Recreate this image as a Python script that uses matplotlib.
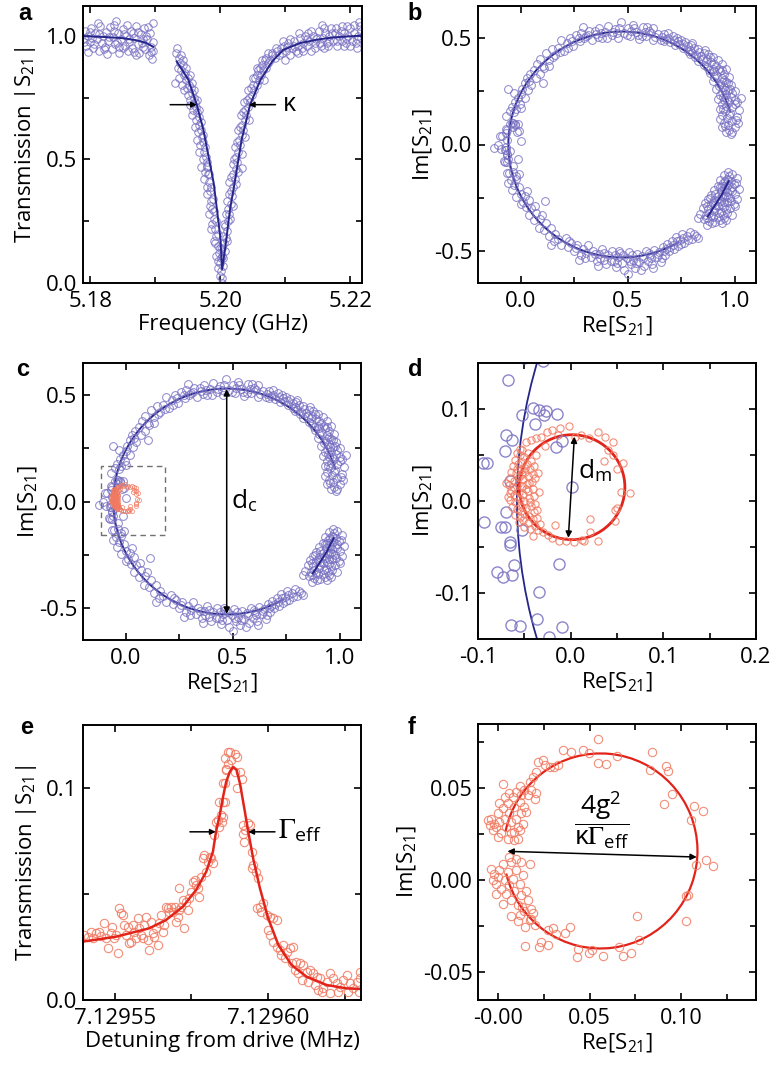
import numpy as np
import matplotlib
matplotlib.use('Agg')
import matplotlib.pyplot as plt
from matplotlib.patches import Arc, Circle, Rectangle
from matplotlib.ticker import FixedLocator, FormatStrFormatter

plt.rcParams['font.family'] = ['Open Sans', 'DejaVu Sans']
plt.rcParams['mathtext.fontset'] = 'stix'
plt.rcParams['axes.unicode_minus'] = False

# ---------------- panel a : |S21| vs frequency (GHz) ----------------
a_left_pts = [(5.1790, 0.99), (5.1792, 1.02), (5.1794, 0.96), (5.1797, 1.00), (5.1800, 0.975),
              (5.1802, 1.03), (5.1805, 0.95), (5.1807, 1.01), (5.1810, 0.985), (5.1813, 0.94),
              (5.1815, 1.04), (5.1818, 0.97), (5.1820, 1.00), (5.1823, 0.955), (5.1825, 1.015),
              (5.1828, 0.98), (5.1830, 1.035), (5.1833, 0.945), (5.1835, 0.995), (5.1838, 0.965),
              (5.1840, 1.06), (5.1843, 1.01), (5.1845, 0.93), (5.1848, 0.985), (5.1850, 1.025),
              (5.1853, 0.96), (5.1855, 1.00), (5.1858, 0.94), (5.1860, 0.975), (5.1863, 1.02),
              (5.1865, 0.95), (5.1868, 0.99), (5.1870, 1.04), (5.1873, 0.965), (5.1875, 0.93),
              (5.1878, 1.005), (5.1880, 0.97), (5.1883, 1.03), (5.1885, 0.945), (5.1888, 0.985),
              (5.1890, 0.92), (5.1892, 1.01), (5.1894, 0.955), (5.1896, 1.05), (5.1897, 0.975),
              (5.1796, 0.935), (5.1812, 1.05), (5.1826, 0.925), (5.1842, 0.975), (5.1857, 1.045),
              (5.1871, 0.92), (5.1886, 1.00), (5.1893, 0.935), (5.1803, 0.99), (5.1836, 1.02),
              (5.1851, 0.95), (5.1866, 1.01), (5.1881, 0.955), (5.1895, 0.905),
              (5.1791, 0.975), (5.1799, 1.015), (5.1806, 0.965), (5.1814, 1.005), (5.1821, 0.945),
              (5.1829, 0.995), (5.1837, 1.045), (5.1844, 0.955), (5.1852, 1.005), (5.1859, 0.985),
              (5.1867, 0.935), (5.1874, 1.015), (5.1882, 0.985), (5.1889, 1.035), (5.1896, 0.94)]
a_dip_left_pts = [(5.1932, 0.93), (5.1934, 0.95), (5.1936, 0.91), (5.1935, 0.87), (5.1938, 0.89),
                  (5.1940, 0.86), (5.1937, 0.83), (5.1942, 0.88), (5.1944, 0.84), (5.1941, 0.80),
                  (5.1946, 0.85), (5.1948, 0.82), (5.1945, 0.78), (5.1950, 0.83), (5.1952, 0.80),
                  (5.1950, 0.76), (5.1955, 0.79), (5.1957, 0.77), (5.1954, 0.74), (5.1959, 0.75),
                  (5.1961, 0.73), (5.1958, 0.70), (5.1963, 0.71), (5.1965, 0.69), (5.1962, 0.66),
                  (5.1967, 0.67), (5.1968, 0.64), (5.1966, 0.61), (5.1970, 0.62), (5.1972, 0.59),
                  (5.1969, 0.56), (5.1974, 0.57), (5.1975, 0.53), (5.1973, 0.50), (5.1978, 0.51),
                  (5.1979, 0.47), (5.1977, 0.45), (5.1981, 0.44), (5.1983, 0.41), (5.1980, 0.39),
                  (5.1985, 0.37), (5.1986, 0.33), (5.1984, 0.31), (5.1988, 0.30), (5.1990, 0.26),
                  (5.1988, 0.24), (5.1992, 0.22), (5.1994, 0.19), (5.1992, 0.16), (5.1996, 0.15),
                  (5.1998, 0.12), (5.1996, 0.09), (5.2000, 0.08), (5.2001, 0.05), (5.1999, 0.03),
                  (5.2002, 0.11), (5.1931, 0.81), (5.1979, 0.475),
                  (5.1939, 0.92), (5.1943, 0.90), (5.1947, 0.87), (5.1949, 0.79), (5.1953, 0.84),
                  (5.1956, 0.81), (5.1953, 0.72), (5.1960, 0.78), (5.1957, 0.68), (5.1964, 0.74),
                  (5.1961, 0.63), (5.1967, 0.70), (5.1964, 0.58), (5.1971, 0.65), (5.1968, 0.53),
                  (5.1974, 0.60), (5.1971, 0.47), (5.1977, 0.55), (5.1975, 0.42), (5.1980, 0.49),
                  (5.1979, 0.36), (5.1983, 0.44), (5.1982, 0.28), (5.1986, 0.39), (5.1986, 0.22),
                  (5.1989, 0.34), (5.1990, 0.17), (5.1991, 0.29), (5.1994, 0.11), (5.1994, 0.25),
                  (5.1997, 0.06), (5.1997, 0.20), (5.2000, 0.14), (5.2002, 0.00)]
a_dip_right_pts = [(5.2003, 0.02), (5.2005, 0.07), (5.2004, 0.10), (5.2007, 0.13), (5.2006, 0.16),
                   (5.2009, 0.18), (5.2011, 0.21), (5.2008, 0.23), (5.2012, 0.25), (5.2014, 0.28),
                   (5.2012, 0.30), (5.2016, 0.32), (5.2018, 0.35), (5.2016, 0.37), (5.2020, 0.39),
                   (5.2022, 0.42), (5.2020, 0.44), (5.2024, 0.46), (5.2026, 0.49), (5.2024, 0.51),
                   (5.2028, 0.53), (5.2030, 0.56), (5.2029, 0.58), (5.2033, 0.60), (5.2035, 0.62),
                   (5.2033, 0.64), (5.2038, 0.66), (5.2040, 0.68), (5.2038, 0.70), (5.2043, 0.71),
                   (5.2046, 0.73), (5.2044, 0.75), (5.2049, 0.76), (5.2052, 0.78), (5.2050, 0.80),
                   (5.2056, 0.80), (5.2059, 0.82), (5.2057, 0.84), (5.2063, 0.84), (5.2066, 0.86),
                   (5.2064, 0.88), (5.2070, 0.87), (5.2073, 0.89), (5.2071, 0.91), (5.2077, 0.90),
                   (5.2080, 0.92), (5.2084, 0.91), (5.2087, 0.94), (5.2090, 0.92), (5.2094, 0.95),
                   (5.2033, 0.465), (5.2058, 0.86), (5.2068, 0.82),
                   (5.2001, 0.10), (5.2003, 0.14), (5.2004, 0.19), (5.2006, 0.24), (5.2009, 0.28),
                   (5.2010, 0.33), (5.2013, 0.36), (5.2014, 0.41), (5.2017, 0.43), (5.2019, 0.48),
                   (5.2021, 0.50), (5.2023, 0.55), (5.2026, 0.57), (5.2027, 0.62), (5.2030, 0.63),
                   (5.2032, 0.68), (5.2035, 0.69), (5.2037, 0.73), (5.2041, 0.74), (5.2043, 0.78),
                   (5.2047, 0.79), (5.2050, 0.83), (5.2054, 0.83), (5.2057, 0.87), (5.2061, 0.87),
                   (5.2064, 0.90), (5.2069, 0.90), (5.2074, 0.93), (5.2079, 0.93), (5.2085, 0.95),
                   (5.2011, 0.17), (5.2015, 0.26), (5.2019, 0.31), (5.2024, 0.40), (5.2028, 0.45),
                   (5.2033, 0.52), (5.2038, 0.59), (5.2045, 0.66)]
a_right_pts = [(5.2095, 0.93), (5.2098, 0.96), (5.2101, 0.94), (5.2104, 0.97), (5.2107, 0.92),
               (5.2110, 0.95), (5.2113, 0.98), (5.2116, 0.94), (5.2119, 0.96), (5.2122, 0.99),
               (5.2125, 0.95), (5.2128, 0.97), (5.2131, 1.00), (5.2134, 0.96), (5.2137, 0.98),
               (5.2140, 0.94), (5.2143, 1.00), (5.2146, 0.97), (5.2149, 0.99), (5.2152, 1.02),
               (5.2155, 0.96), (5.2158, 0.99), (5.2161, 1.01), (5.2164, 0.97), (5.2167, 1.00),
               (5.2170, 1.03), (5.2173, 0.98), (5.2176, 1.01), (5.2179, 0.96), (5.2182, 1.00),
               (5.2185, 1.02), (5.2188, 0.98), (5.2191, 1.01), (5.2194, 0.97), (5.2197, 1.00),
               (5.2200, 1.03), (5.2203, 0.98), (5.2206, 1.01), (5.2209, 0.97), (5.2212, 1.00),
               (5.2215, 1.04), (5.2217, 0.99), (5.2100, 0.90), (5.2120, 0.93), (5.2135, 1.01),
               (5.2160, 0.95), (5.2178, 1.03), (5.2195, 1.04), (5.2210, 0.95), (5.2190, 0.96),
               (5.2145, 0.95), (5.2168, 0.98), (5.2156, 1.045), (5.2213, 1.055),
               (5.2096, 0.98), (5.2102, 0.955), (5.2108, 0.985), (5.2114, 0.96), (5.2121, 1.01),
               (5.2127, 0.94), (5.2133, 0.985), (5.2139, 1.02), (5.2147, 0.985), (5.2153, 0.97),
               (5.2159, 1.03), (5.2166, 0.96), (5.2172, 1.01), (5.2180, 0.98), (5.2187, 1.04),
               (5.2193, 0.99), (5.2199, 0.96), (5.2205, 1.045), (5.2211, 0.985), (5.2216, 1.02)]
a_fit_left = [(5.1789, 0.998), (5.1820, 0.995), (5.1850, 0.990), (5.1870, 0.982),
              (5.1885, 0.972), (5.1897, 0.955)]
a_fit_dip = [(5.1933, 0.896), (5.1951, 0.822), (5.1964, 0.721), (5.1974, 0.620),
             (5.1982, 0.512), (5.1990, 0.404), (5.1995, 0.296), (5.2000, 0.189),
             (5.2003, 0.055), (5.2008, 0.148), (5.2015, 0.296), (5.2023, 0.418),
             (5.2033, 0.580), (5.2046, 0.721), (5.2062, 0.822), (5.2080, 0.896),
             (5.2097, 0.943), (5.2123, 0.970), (5.2149, 0.984), (5.2174, 0.993),
             (5.2215, 1.000)]

# ---------------- panels b/c : complex S21 (cavity) ----------------
blue_upper_right = [(0.985, 0.05), (0.960, 0.06), (0.94, 0.08), (0.97, 0.09), (1.00, 0.08),
                    (0.95, 0.10), (0.99, 0.11), (0.93, 0.12), (0.965, 0.125), (1.01, 0.13),
                    (0.94, 0.14), (0.98, 0.15), (0.955, 0.155), (1.02, 0.16), (0.93, 0.165),
                    (0.99, 0.175), (0.96, 0.18), (0.94, 0.19), (1.00, 0.19), (0.975, 0.20),
                    (0.95, 0.21), (1.03, 0.22), (0.92, 0.215), (0.985, 0.225), (0.96, 0.235),
                    (0.94, 0.245), (1.00, 0.25), (0.97, 0.255), (0.915, 0.26), (0.95, 0.27),
                    (0.985, 0.28), (0.93, 0.285), (0.96, 0.295), (0.90, 0.30), (0.94, 0.31),
                    (0.975, 0.315), (0.915, 0.325), (0.95, 0.33), (0.885, 0.335), (0.93, 0.345),
                    (0.96, 0.355), (0.90, 0.355), (0.87, 0.365), (0.915, 0.37), (0.94, 0.38),
                    (0.855, 0.375), (0.89, 0.385), (0.92, 0.395), (0.83, 0.39), (0.87, 0.40),
                    (0.90, 0.41), (0.845, 0.415), (0.815, 0.41), (0.875, 0.425), (0.80, 0.43),
                    (0.835, 0.435), (0.86, 0.445), (0.78, 0.44), (0.81, 0.455), (0.76, 0.455),
                    (0.795, 0.465), (0.74, 0.47), (0.77, 0.48), (0.72, 0.465), (0.75, 0.49),
                    (0.70, 0.48), (0.73, 0.50), (0.68, 0.495), (0.71, 0.51), (0.66, 0.505),
                    (0.975, 0.07), (1.015, 0.10), (0.945, 0.225), (0.905, 0.345), (0.85, 0.40),
                    (0.79, 0.425),
                    (0.99, 0.06), (0.955, 0.085), (1.005, 0.115), (0.975, 0.14), (0.945, 0.165),
                    (1.01, 0.20), (0.965, 0.21), (0.93, 0.23), (0.99, 0.24), (0.955, 0.255),
                    (0.925, 0.275), (0.97, 0.29), (0.94, 0.295), (0.905, 0.315), (0.95, 0.305),
                    (0.925, 0.355), (0.88, 0.35), (0.905, 0.38), (0.865, 0.39), (0.885, 0.41),
                    (0.82, 0.42), (0.855, 0.43), (0.79, 0.445), (0.83, 0.45), (0.76, 0.47),
                    (0.80, 0.475), (0.735, 0.485), (0.715, 0.49), (0.69, 0.50), (0.67, 0.52),
                    (0.655, 0.49), (0.78, 0.46), (0.94, 0.35), (0.98, 0.26), (1.00, 0.21)]
blue_top = [(0.64, 0.52), (0.62, 0.49), (0.60, 0.535), (0.585, 0.51), (0.57, 0.55),
            (0.555, 0.495), (0.54, 0.53), (0.525, 0.56), (0.51, 0.51), (0.50, 0.545),
            (0.485, 0.525), (0.47, 0.575), (0.455, 0.50), (0.44, 0.54), (0.425, 0.515),
            (0.41, 0.555), (0.395, 0.53), (0.38, 0.50), (0.365, 0.545), (0.35, 0.52),
            (0.335, 0.49), (0.32, 0.535), (0.305, 0.51), (0.29, 0.55), (0.275, 0.485),
            (0.26, 0.515), (0.245, 0.46), (0.23, 0.50), (0.215, 0.475), (0.20, 0.44),
            (0.19, 0.49), (0.175, 0.455), (0.16, 0.42), (0.145, 0.45), (0.13, 0.395),
            (0.12, 0.43), (0.105, 0.37), (0.09, 0.40), (0.58, 0.53), (0.55, 0.515),
            (0.515, 0.535), (0.45, 0.525), (0.36, 0.505), (0.28, 0.525), (0.62, 0.545),
            (0.67, 0.485), (0.69, 0.525),
            (0.63, 0.505), (0.61, 0.525), (0.59, 0.55), (0.565, 0.51), (0.53, 0.545),
            (0.495, 0.515), (0.46, 0.545), (0.43, 0.53), (0.405, 0.50), (0.375, 0.525),
            (0.345, 0.535), (0.315, 0.515), (0.295, 0.50), (0.27, 0.50), (0.24, 0.485),
            (0.22, 0.455), (0.185, 0.435), (0.15, 0.41)]
blue_left = [(0.075, 0.38), (0.06, 0.35), (0.09, 0.33), (0.045, 0.33), (0.03, 0.31),
             (0.07, 0.31), (0.02, 0.29), (0.05, 0.28), (0.103, 0.29), (0.005, 0.26),
             (0.035, 0.255), (-0.061, 0.261), (0.0, 0.235), (-0.015, 0.22), (0.02, 0.22),
             (-0.025, 0.20), (-0.005, 0.19), (-0.04, 0.175), (-0.02, 0.165), (0.0, 0.17),
             (-0.05, 0.155), (0.11, 0.36), (0.13, 0.37), (0.04, 0.30), (-0.03, 0.24),
             (-0.068, 0.132), (-0.030, 0.152), (-0.052, 0.094), (-0.041, 0.101), (-0.034, 0.099),
             (-0.027, 0.098), (-0.029, 0.093), (-0.015, 0.095), (-0.038, 0.084), (-0.070, 0.072),
             (-0.063, 0.066), (-0.016, 0.059), (-0.009, 0.065), (-0.071, 0.054), (-0.095, 0.041),
             (-0.090, 0.041), (0.001, 0.015), (-0.065, 0.022), (-0.093, -0.023), (-0.070, -0.012),
             (-0.075, -0.028), (-0.071, -0.028), (-0.066, -0.045), (-0.065, -0.048), (-0.052, -0.032),
             (-0.061, -0.070), (-0.079, -0.077), (-0.073, -0.083), (-0.063, -0.080), (-0.0125, -0.068),
             (-0.034, -0.099), (-0.036, -0.128), (-0.064, -0.135), (-0.055, -0.136), (-0.009, -0.137),
             (-0.023, -0.148), (-0.125, -0.018), (-0.105, 0.0),
             (-0.045, -0.165), (-0.02, -0.16), (-0.06, -0.18), (-0.03, -0.19), (-0.01, -0.20),
             (-0.04, -0.215), (0.0, -0.23), (-0.02, -0.245), (0.02, -0.24), (0.01, -0.27),
             (0.04, -0.26), (0.111, -0.266), (0.025, -0.295), (0.05, -0.30), (0.04, -0.33),
             (0.07, -0.32), (0.06, -0.355), (0.09, -0.35), (0.085, -0.39), (0.12, -0.37),
             (0.11, -0.40), (0.14, -0.39), (0.13, -0.43), (0.142, -0.473), (0.16, -0.42),
             (0.175, -0.445), (0.19, -0.47), (0.03, -0.22), (0.0, -0.28), (0.065, -0.29),
             (0.10, -0.33), (0.155, -0.455)]
blue_bottom = [(0.21, -0.44), (0.22, -0.48), (0.235, -0.46), (0.25, -0.50), (0.265, -0.47),
               (0.28, -0.52), (0.29, -0.49), (0.305, -0.51), (0.315, -0.47), (0.33, -0.53),
               (0.34, -0.50), (0.355, -0.545), (0.365, -0.515), (0.38, -0.49), (0.39, -0.54),
               (0.40, -0.56), (0.41, -0.52), (0.425, -0.50), (0.435, -0.545), (0.445, -0.575),
               (0.455, -0.53), (0.465, -0.51), (0.475, -0.555), (0.485, -0.59), (0.495, -0.535),
               (0.505, -0.505), (0.515, -0.56), (0.525, -0.54), (0.535, -0.58), (0.545, -0.515),
               (0.555, -0.55), (0.565, -0.525), (0.575, -0.57), (0.585, -0.50), (0.595, -0.545),
               (0.605, -0.52), (0.615, -0.56), (0.625, -0.495), (0.635, -0.53), (0.645, -0.505),
               (0.655, -0.55), (0.665, -0.48), (0.675, -0.52), (0.685, -0.465), (0.695, -0.50),
               (0.705, -0.455), (0.715, -0.49), (0.725, -0.435), (0.735, -0.475), (0.745, -0.45),
               (0.755, -0.42), (0.765, -0.46), (0.775, -0.43), (0.79, -0.41), (0.80, -0.445),
               (0.82, -0.43), (0.83, -0.44), (0.50, -0.61), (0.36, -0.57), (0.27, -0.54),
               (0.46, -0.50), (0.62, -0.58), (0.56, -0.59), (0.39, -0.51), (0.44, -0.52),
               (0.52, -0.52), (0.60, -0.51), (0.68, -0.49), (0.71, -0.47), (0.76, -0.44),
               (0.225, -0.455), (0.26, -0.485), (0.30, -0.535), (0.345, -0.515), (0.37, -0.535),
               (0.42, -0.545), (0.45, -0.555), (0.48, -0.52), (0.51, -0.545), (0.54, -0.555),
               (0.57, -0.535), (0.61, -0.535), (0.64, -0.515), (0.67, -0.50), (0.70, -0.48),
               (0.73, -0.455), (0.75, -0.465), (0.78, -0.45), (0.81, -0.42), (0.66, -0.535)]
blue_cluster = [(0.97, -0.13), (0.99, -0.14), (0.95, -0.145), (1.01, -0.155), (0.965, -0.16),
                (0.93, -0.165), (0.985, -0.17), (1.005, -0.18), (0.945, -0.18), (0.97, -0.19),
                (0.92, -0.195), (0.99, -0.20), (0.95, -0.205), (1.02, -0.21), (0.905, -0.215),
                (0.935, -0.22), (0.965, -0.225), (1.00, -0.23), (0.89, -0.235), (0.92, -0.24),
                (0.95, -0.245), (0.98, -0.25), (1.01, -0.255), (0.875, -0.255), (0.905, -0.26),
                (0.935, -0.265), (0.965, -0.27), (0.995, -0.28), (0.86, -0.275), (0.89, -0.28),
                (0.92, -0.29), (0.95, -0.295), (0.98, -0.30), (0.85, -0.30), (0.875, -0.305),
                (0.905, -0.31), (0.935, -0.315), (0.965, -0.32), (0.84, -0.325), (0.865, -0.33),
                (0.89, -0.335), (0.92, -0.34), (0.95, -0.345), (0.855, -0.35), (0.88, -0.36),
                (0.91, -0.365), (0.94, -0.37), (0.83, -0.345), (0.87, -0.38), (0.96, -0.355),
                (0.99, -0.33), (0.93, -0.20), (0.96, -0.21), (1.00, -0.29), (0.885, -0.25),
                (0.91, -0.285), (0.94, -0.24), (0.97, -0.245), (0.95, -0.27), (0.925, -0.32),
                (0.90, -0.34), (0.97, -0.165), (0.99, -0.22),
                (0.975, -0.15), (0.955, -0.17), (0.995, -0.185), (0.94, -0.195), (0.98, -0.215),
                (0.91, -0.23), (0.96, -0.24), (0.925, -0.255), (0.985, -0.265), (0.90, -0.275),
                (0.94, -0.285), (0.87, -0.29), (0.91, -0.30), (0.96, -0.305), (0.88, -0.32),
                (0.945, -0.33), (0.87, -0.345), (0.93, -0.355), (0.895, -0.37)]
# fitted circle: centre, radius, start / end angle (deg)
cav_center = (0.472, 0.0)
cav_radius = 0.53
cav_theta = (16.4, 300.4)
cav_seg_re = [0.875, 0.905, 0.94, 0.972]
cav_seg_im = [-0.337, -0.29, -0.235, -0.172]
d_c_line = [(0.472, 0.527), (0.472, -0.527)]

# ---------------- panel d : magnon circle ----------------
red_d = [(-0.060, 0.045), (-0.055, 0.050), (-0.050, 0.048), (-0.046, 0.052), (-0.062, 0.038),
         (-0.057, 0.040), (-0.052, 0.042), (-0.047, 0.040), (-0.043, 0.044), (-0.064, 0.032),
         (-0.059, 0.030), (-0.054, 0.034), (-0.049, 0.032), (-0.044, 0.035), (-0.040, 0.038),
         (-0.066, 0.025), (-0.061, 0.022), (-0.056, 0.026), (-0.051, 0.024), (-0.046, 0.027),
         (-0.041, 0.029), (-0.067, 0.017), (-0.062, 0.015), (-0.057, 0.018), (-0.052, 0.016),
         (-0.047, 0.019), (-0.042, 0.021), (-0.038, 0.025), (-0.066, 0.009), (-0.061, 0.007),
         (-0.056, 0.010), (-0.051, 0.008), (-0.046, 0.011), (-0.041, 0.013), (-0.065, 0.001),
         (-0.060, -0.001), (-0.055, 0.002), (-0.050, 0.000), (-0.045, 0.003), (-0.040, 0.005),
         (-0.063, -0.007), (-0.058, -0.009), (-0.053, -0.006), (-0.048, -0.008), (-0.043, -0.005),
         (-0.038, -0.003), (-0.060, -0.015), (-0.055, -0.017), (-0.050, -0.014), (-0.045, -0.016),
         (-0.040, -0.012), (-0.056, -0.023), (-0.051, -0.021), (-0.046, -0.024), (-0.041, -0.020),
         (-0.036, -0.018), (-0.050, -0.028), (-0.044, -0.030), (-0.038, -0.027), (-0.058, 0.035),
         (-0.053, 0.029), (-0.048, 0.013), (-0.044, -0.001), (-0.054, -0.011), (-0.049, 0.036),
         (-0.064, 0.012), (-0.059, 0.004), (-0.045, 0.020), (-0.052, 0.055), (-0.058, 0.052),
         (-0.037, 0.050), (-0.035, 0.030), (-0.034, 0.010), (-0.036, -0.010), (-0.033, -0.025),
         (-0.070, 0.020), (-0.068, 0.004),
         (-0.055, 0.057), (-0.048, 0.064), (-0.043, 0.066), (-0.0375, 0.068), (-0.032, 0.070),
         (-0.026, 0.0745), (-0.020, 0.077), (-0.011, 0.079), (-0.002, 0.082), (-0.014, 0.072),
         (0.005, 0.070), (0.011, 0.072), (0.029, 0.0745), (0.0375, 0.070), (0.046, 0.064),
         (0.036, 0.044), (0.046, 0.050), (0.057, 0.041), (0.050, 0.035), (0.054, 0.010),
         (0.064, 0.009), (0.050, -0.008), (0.048, -0.010), (0.048, -0.022), (0.021, -0.020),
         (0.021, -0.034), (0.0125, -0.042), (0.0036, -0.045), (-0.005, -0.043), (-0.0125, -0.043),
         (-0.020, -0.040), (-0.025, -0.037), (-0.030, -0.034), (-0.041, -0.0375), (-0.035, -0.031),
         (-0.017, -0.026), (0.014, -0.044), (0.029, -0.043), (-0.028, 0.060), (0.020, 0.068),
         (0.040, 0.055)]
mag_center = (0.0015, 0.015)
mag_radius = 0.057
d_m_line = [(0.004, 0.070), (-0.0025, -0.040)]

# ---------------- panel e : |S21| vs detuning (MHz) ----------------
e_pts = [(7.1295401, 0.0307), (7.1295412, 0.0299), (7.1295423, 0.0323), (7.1295428, 0.0291),
         (7.1295439, 0.0315), (7.1295450, 0.0323), (7.1295455, 0.0304), (7.1295466, 0.0362),
         (7.1295472, 0.0291), (7.1295477, 0.0244), (7.1295488, 0.0315), (7.1295493, 0.0346),
         (7.1295499, 0.0291), (7.1295504, 0.0307), (7.1295510, 0.0220), (7.1295515, 0.0433),
         (7.1295521, 0.0409), (7.1295526, 0.0402), (7.1295532, 0.0354), (7.1295537, 0.0307),
         (7.1295542, 0.0346), (7.1295548, 0.0268), (7.1295553, 0.0275), (7.1295559, 0.0354),
         (7.1295564, 0.0323), (7.1295570, 0.0291), (7.1295575, 0.0386), (7.1295580, 0.0339),
         (7.1295586, 0.0307), (7.1295591, 0.0291), (7.1295597, 0.0354), (7.1295602, 0.0394),
         (7.1295608, 0.0283), (7.1295613, 0.0236), (7.1295618, 0.0370), (7.1295624, 0.0315),
         (7.1295629, 0.0299), (7.1295635, 0.0339), (7.1295640, 0.0260), (7.1295646, 0.0362),
         (7.1295651, 0.0402), (7.1295657, 0.0323), (7.1295662, 0.0354), (7.1295667, 0.0441),
         (7.1295673, 0.0433), (7.1295678, 0.0417), (7.1295684, 0.0441), (7.1295689, 0.0417),
         (7.1295695, 0.0441), (7.1295700, 0.0370), (7.1295705, 0.0394), (7.1295709, 0.0528),
         (7.1295711, 0.0425), (7.1295716, 0.0441), (7.1295722, 0.0472), (7.1295727, 0.0339),
         (7.1295733, 0.0465), (7.1295738, 0.0425), (7.1295743, 0.0480), (7.1295749, 0.0512),
         (7.1295754, 0.0559), (7.1295760, 0.0567), (7.1295765, 0.0543), (7.1295771, 0.0528),
         (7.1295776, 0.0488), (7.1295782, 0.0583), (7.1295787, 0.0669), (7.1295792, 0.0685),
         (7.1295798, 0.0606), (7.1295803, 0.0654), (7.1295809, 0.0677), (7.1295814, 0.0669),
         (7.1295820, 0.0646), (7.1295825, 0.0780), (7.1295830, 0.0843), (7.1295836, 0.0850),
         (7.1295839, 0.0937), (7.1295847, 0.0874), (7.1295852, 0.0937), (7.1295858, 0.1024),
         (7.1295863, 0.1087), (7.1295868, 0.1173), (7.1295841, 0.0819),
         (7.1295859, 0.1142), (7.1295864, 0.1094), (7.1295870, 0.1118), (7.1295875, 0.1173),
         (7.1295880, 0.1134), (7.1295891, 0.1165), (7.1295897, 0.1150), (7.1295891, 0.1079),
         (7.1295897, 0.1000), (7.1295908, 0.1079), (7.1295913, 0.1047), (7.1295853, 0.1024),
         (7.1295859, 0.0937), (7.1295848, 0.0843), (7.1295853, 0.0866), (7.1295918, 0.0827),
         (7.1295924, 0.0803), (7.1295935, 0.0835), (7.1295940, 0.0827), (7.1295918, 0.0787),
         (7.1295921, 0.0748), (7.1295946, 0.0701), (7.1295951, 0.0638), (7.1295946, 0.0622),
         (7.1295960, 0.0606), (7.1295967, 0.0575), (7.1295962, 0.0433), (7.1295973, 0.0441),
         (7.1295984, 0.0457), (7.1295978, 0.0417), (7.1295995, 0.0402), (7.1296005, 0.0394),
         (7.1296016, 0.0386), (7.1296027, 0.0378), (7.1296000, 0.0331), (7.1296005, 0.0307),
         (7.1296016, 0.0276), (7.1296027, 0.0252), (7.1296038, 0.0236), (7.1296049, 0.0260),
         (7.1296060, 0.0228), (7.1296071, 0.0244), (7.1296082, 0.0252), (7.1296043, 0.0213),
         (7.1296054, 0.0197), (7.1296092, 0.0181), (7.1296103, 0.0173), (7.1296114, 0.0165),
         (7.1296076, 0.0173), (7.1296087, 0.0142), (7.1296098, 0.0126), (7.1296125, 0.0134),
         (7.1296136, 0.0142), (7.1296147, 0.0126), (7.1296158, 0.0110), (7.1296168, 0.0102),
         (7.1296109, 0.0094), (7.1296130, 0.0087), (7.1296152, 0.0071), (7.1296163, 0.0047),
         (7.1296179, 0.0055), (7.1296190, 0.0087), (7.1296201, 0.0126), (7.1296212, 0.0102),
         (7.1296223, 0.0079), (7.1296234, 0.0063), (7.1296245, 0.0094), (7.1296255, 0.0118),
         (7.1296266, 0.0079), (7.1296277, 0.0055), (7.1296288, 0.0087), (7.1296299, 0.0134),
         (7.1296300, 0.0102), (7.1296174, 0.0039), (7.1296201, 0.0031), (7.1296228, 0.0039),
         (7.1296261, 0.0039), (7.1296294, 0.0039)]
e_fit = [(7.1295396, 0.0276), (7.1295504, 0.0299), (7.1295613, 0.0339), (7.1295667, 0.0378),
         (7.1295722, 0.0441), (7.1295765, 0.0520), (7.1295798, 0.0606), (7.1295820, 0.0701),
         (7.1295830, 0.0795), (7.1295842, 0.0874), (7.1295853, 0.0961), (7.1295863, 0.1031),
         (7.1295875, 0.1079), (7.1295886, 0.1102), (7.1295897, 0.1087), (7.1295908, 0.1024),
         (7.1295924, 0.0890), (7.1295935, 0.0795), (7.1295951, 0.0669), (7.1295973, 0.0528),
         (7.1296000, 0.0386), (7.1296033, 0.0260), (7.1296076, 0.0165), (7.1296125, 0.0110),
         (7.1296190, 0.0071), (7.1296255, 0.0055), (7.1296304, 0.0052)]

# ---------------- panel f : complex S21 (magnon) ----------------
f_pts = [(0.0544, 0.0771), (0.0356, 0.0709), (0.0401, 0.0700), (0.0465, 0.0709), (0.0496, 0.0695),
         (0.0547, 0.0636), (0.0588, 0.0631), (0.0651, 0.0676), (0.0839, 0.0700), (0.0916, 0.0622),
         (0.0927, 0.0595), (0.0830, 0.0600), (0.0953, 0.0467), (0.0909, 0.0413), (0.1071, 0.0404),
         (0.1122, 0.0376), (0.1055, 0.0327), (0.1135, 0.0113), (0.1177, 0.0080), (0.1080, 0.0085),
         (0.1040, -0.0078), (0.1026, -0.0087), (0.1026, -0.0218), (0.0761, -0.0196), (0.0770, -0.0324),
         (0.0662, -0.0364), (0.0684, -0.0411), (0.0726, -0.0396), (0.0575, -0.0411), (0.0496, -0.0396),
         (0.0511, -0.0378), (0.0438, -0.0375), (0.0434, -0.0415), (0.0392, -0.0251), (0.0365, -0.0287),
         (0.0319, -0.0291), (0.0274, -0.0269), (0.0274, -0.0351), (0.0223, -0.0360), (0.0237, -0.0333),
         (0.0146, -0.0356), (0.0301, -0.0260),
         (0.0026, 0.0524), (0.0117, 0.0513), (0.0172, 0.0536), (0.0181, 0.0491), (0.0190, 0.0564),
         (0.0208, 0.0591), (0.0217, 0.0645), (0.0245, 0.0655), (0.0254, 0.0627), (0.0281, 0.0618),
         (0.0305, 0.0618), (0.0162, 0.0464), (0.0199, 0.0445), (0.0208, 0.0473), (0.0144, 0.0491),
         (0.0327, 0.0627),
         (-0.0038, 0.0336), (-0.0020, 0.0309), (-0.0029, 0.0273), (-0.0002, 0.0364), (-0.0011, 0.0291),
         (0.0007, 0.0318), (0.0016, 0.0255), (0.0026, 0.0391), (0.0035, 0.0336), (0.0044, 0.0291),
         (0.0053, 0.0418), (0.0062, 0.0364), (0.0071, 0.0318), (0.0071, 0.0255), (0.0080, 0.0455),
         (0.0089, 0.0400), (0.0099, 0.0336), (0.0108, 0.0291), (0.0108, 0.0227), (0.0117, 0.0427),
         (0.0126, 0.0364), (0.0135, 0.0309), (0.0144, 0.0400), (0.0153, 0.0373), (0.0089, 0.0218),
         (0.0053, 0.0227), (-0.0002, 0.0236), (-0.0047, 0.0300), (-0.0056, 0.0327), (0.0035, 0.0455),
         (0.0062, 0.0473), (0.0099, 0.0482), (0.0126, 0.0464), (0.0007, 0.0418), (0.0089, 0.0264),
         (0.0117, 0.0273),
         (-0.0038, 0.0064), (-0.0020, 0.0036), (-0.0029, 0.0000), (-0.0011, -0.0018), (-0.0002, 0.0018),
         (0.0007, 0.0055), (0.0016, -0.0045), (0.0026, 0.0091), (0.0035, 0.0000), (0.0044, -0.0073),
         (0.0053, 0.0045), (0.0062, -0.0027), (0.0071, 0.0100), (0.0071, -0.0109), (0.0080, 0.0009),
         (0.0089, -0.0055), (0.0099, 0.0055), (0.0108, -0.0136), (0.0117, -0.0018), (0.0126, -0.0082),
         (0.0135, 0.0027), (0.0144, -0.0164), (0.0153, -0.0055), (0.0162, -0.0109), (0.0172, 0.0091),
         (0.0181, -0.0209), (0.0071, -0.0191), (0.0108, -0.0218), (0.0181, -0.0155), (0.0062, 0.0127),
         (-0.0011, -0.0073), (0.0026, -0.0127), (0.0126, 0.0100), (0.0099, 0.0118),
         (0.0119, -0.0187), (0.0146, -0.0251), (0.0173, -0.0215), (0.0192, -0.0178), (0.0131, -0.0142),
         (0.0204, -0.0242)]
f_center = (0.056, 0.016)
f_radius = 0.053
f_theta = (-166.6, 168.4)
f_line = [(0.0051, 0.0158), (0.1086, 0.0127)]

BLUE_PT = '#7870c2'
BLUE_LN = '#26268a'
RED_PT = '#f07a62'
RED_LN = '#e2231a'
TICK_FS = 16
LABEL_FS = 16


def style(ax, xlim, ylim, xmaj, xmin, ymaj, ymin, xfmt, yfmt, ylab_x=-0.16, tick_fs=TICK_FS):
    ax.set_xlim(*xlim)
    ax.set_ylim(*ylim)
    ax.xaxis.set_major_locator(FixedLocator(xmaj))
    ax.xaxis.set_minor_locator(FixedLocator(xmin))
    ax.yaxis.set_major_locator(FixedLocator(ymaj))
    ax.yaxis.set_minor_locator(FixedLocator(ymin))
    ax.xaxis.set_major_formatter(FormatStrFormatter(xfmt))
    ax.yaxis.set_major_formatter(FormatStrFormatter(yfmt))
    ax.tick_params(which='both', direction='in', top=True, right=True,
                   width=1.2, labelsize=tick_fs, pad=4)
    ax.tick_params(axis='x', which='major', pad=5.5)
    ax.tick_params(which='major', length=5)
    ax.tick_params(which='minor', length=4)
    for s in ax.spines.values():
        s.set_linewidth(1.4)
    ax.yaxis.set_label_coords(ylab_x, 0.5)


def pts(ax, data, color, ms, lw=0.7, alpha=0.85):
    arr = np.array(data)
    ax.plot(arr[:, 0], arr[:, 1], 'o', mfc='none', mec=color, ms=ms, mew=lw, alpha=alpha)


def darrow(ax, p0, p1, style='<|-|>', ms=9, lw=1.1):
    ax.annotate('', xy=p1, xytext=p0,
                arrowprops=dict(arrowstyle=style, color='k', lw=lw, mutation_scale=ms,
                                shrinkA=0, shrinkB=0))


fig = plt.figure(figsize=(7.73, 10.66), dpi=100)
W, H = 773.0, 1066.0


def axes_px(l, t, r, b):
    return fig.add_axes([l / W, 1 - b / H, (r - l) / W, (b - t) / H])


ax_a = axes_px(83, 6, 362, 283)
ax_b = axes_px(478, 6, 756, 283)
ax_c = axes_px(83, 363, 361, 640)
ax_d = axes_px(478, 363, 756, 639)
ax_e = axes_px(83, 725, 361, 1000)
ax_f = axes_px(478, 724, 756, 1000)

s21 = r'$_\mathregular{21}$'

# a
for d in (a_left_pts, a_dip_left_pts, a_dip_right_pts, a_right_pts):
    pts(ax_a, d, BLUE_PT, 5.4)
for fit in (a_fit_left, a_fit_dip):
    f = np.array(fit)
    ax_a.plot(f[:, 0], f[:, 1], '-', color=BLUE_LN, lw=1.4)
darrow(ax_a, (5.1923, 0.721), (5.1964, 0.721), style='-|>', ms=8)
darrow(ax_a, (5.2085, 0.721), (5.2044, 0.721), style='-|>', ms=8)
ax_a.text(5.2097, 0.721, 'κ', fontsize=18, ha='left', va='center')
style(ax_a, (5.1789, 5.2218), (0, 1.12), [5.18, 5.20, 5.22], [5.19, 5.21],
      [0, 0.5, 1.0], [0.25, 0.75], '%.2f', '%.1f')
ax_a.set_xlabel('Frequency (GHz)', fontsize=LABEL_FS, labelpad=2)
ax_a.set_ylabel('Transmission |S' + s21 + '|', fontsize=LABEL_FS)

# b and c
blue_all = blue_upper_right + blue_top + blue_left + blue_bottom + blue_cluster
for ax in (ax_b, ax_c):
    pts(ax, blue_all, BLUE_PT, 5.6)
    ax.add_patch(Arc(cav_center, 2 * cav_radius, 2 * cav_radius, theta1=cav_theta[0],
                     theta2=cav_theta[1], color=BLUE_LN, lw=1.4))
    ax.plot(cav_seg_re, cav_seg_im, '-', color=BLUE_LN, lw=1.4)
    style(ax, (-0.2, 1.1), (-0.65, 0.65), [0, 0.5, 1.0], [0.25, 0.75],
          [-0.5, 0, 0.5], [-0.25, 0.25], '%.1f', '%.1f')
    ax.set_xlabel('Re[S' + s21 + ']', fontsize=LABEL_FS, labelpad=2)
    ax.set_ylabel('Im[S' + s21 + ']', fontsize=LABEL_FS)

pts(ax_c, red_d, RED_PT, 3.0, lw=0.55)
ax_c.add_patch(Rectangle((-0.115, -0.155), 0.30, 0.32, fill=False, ls=(0, (4, 3)),
                         ec='#707070', lw=1.0))
darrow(ax_c, d_c_line[0], d_c_line[1], ms=9)
ax_c.text(0.49, 0.0, r'd$_\mathregular{c}$', fontsize=19, ha='left', va='center')

# d
pts(ax_d, blue_all, BLUE_PT, 8.0, lw=1.0)
ax_d.add_patch(Arc(cav_center, 2 * cav_radius, 2 * cav_radius, theta1=cav_theta[0],
                   theta2=cav_theta[1], color=BLUE_LN, lw=1.3))
pts(ax_d, red_d, RED_PT, 5.2, lw=0.8)
ax_d.add_patch(Circle(mag_center, mag_radius, fill=False, ec=RED_LN, lw=2.0))
darrow(ax_d, d_m_line[0], d_m_line[1], ms=9)
ax_d.text(0.008, 0.033, r'd$_\mathregular{m}$', fontsize=19, ha='left', va='center')
style(ax_d, (-0.1, 0.2), (-0.15, 0.15), [-0.1, 0, 0.1, 0.2], [-0.05, 0.05, 0.15],
      [-0.1, 0, 0.1], [-0.05, 0.05], '%.1f', '%.1f')
ax_d.set_xlabel('Re[S' + s21 + ']', fontsize=LABEL_FS, labelpad=2)
ax_d.set_ylabel('Im[S' + s21 + ']', fontsize=LABEL_FS)

# e
pts(ax_e, e_pts, RED_PT, 6.0, lw=0.8)
fe = np.array(e_fit)
ax_e.plot(fe[:, 0], fe[:, 1], '-', color=RED_LN, lw=1.8)
darrow(ax_e, (7.1295745, 0.0795), (7.1295829, 0.0795), style='-|>', ms=8)
darrow(ax_e, (7.1296022, 0.0795), (7.1295935, 0.0795), style='-|>', ms=8)
ax_e.text(7.1296031, 0.0762, r'$\Gamma_{\mathregular{eff}}$', fontsize=20,
          ha='left', va='baseline')
style(ax_e, (7.1295397, 7.1296302), (0, 0.13), [7.12955, 7.12960],
      [7.129575, 7.129625], [0, 0.1], [0.05], '%.5f', '%.1f')
ax_e.set_xlabel('Detuning from drive (MHz)', fontsize=LABEL_FS, labelpad=2)
ax_e.set_ylabel('Transmission |S' + s21 + '|', fontsize=LABEL_FS)

# f
pts(ax_f, f_pts, RED_PT, 6.0, lw=0.8)
ax_f.add_patch(Arc(f_center, 2 * f_radius, 2 * f_radius, theta1=f_theta[0],
                   theta2=f_theta[1], color=RED_LN, lw=1.6))
darrow(ax_f, f_line[0], f_line[1], ms=9)
ax_f.text(0.057, 0.033, r'$\dfrac{\mathregular{4g}^{\mathregular{2}}}{\mathregular{κ}\Gamma_{\mathregular{eff}}}$',
          fontsize=19, ha='center', va='center')
style(ax_f, (-0.011, 0.141), (-0.065, 0.085), [0, 0.05, 0.10], [0.025, 0.075, 0.125],
      [-0.05, 0, 0.05], [-0.025, 0.025, 0.075], '%.2f', '%.2f', ylab_x=-0.215, tick_fs=15.5)
ax_f.set_xticklabels(['-0.00', '0.05', '0.10'])
ax_f.set_xlabel('Re[S' + s21 + ']', fontsize=LABEL_FS, labelpad=2)
ax_f.set_ylabel('Im[S' + s21 + ']', fontsize=LABEL_FS)

for lab, x, y in [('a', 25, 13), ('b', 415, 13), ('c', 23, 369), ('d', 415, 369),
                  ('e', 27, 728), ('f', 412, 728)]:
    fig.text(x / W, 1 - y / H, lab, fontsize=17, fontweight='bold', ha='center', va='center',
             family=['Liberation Sans', 'DejaVu Sans'])

fig.savefig('out.png', dpi=100)
